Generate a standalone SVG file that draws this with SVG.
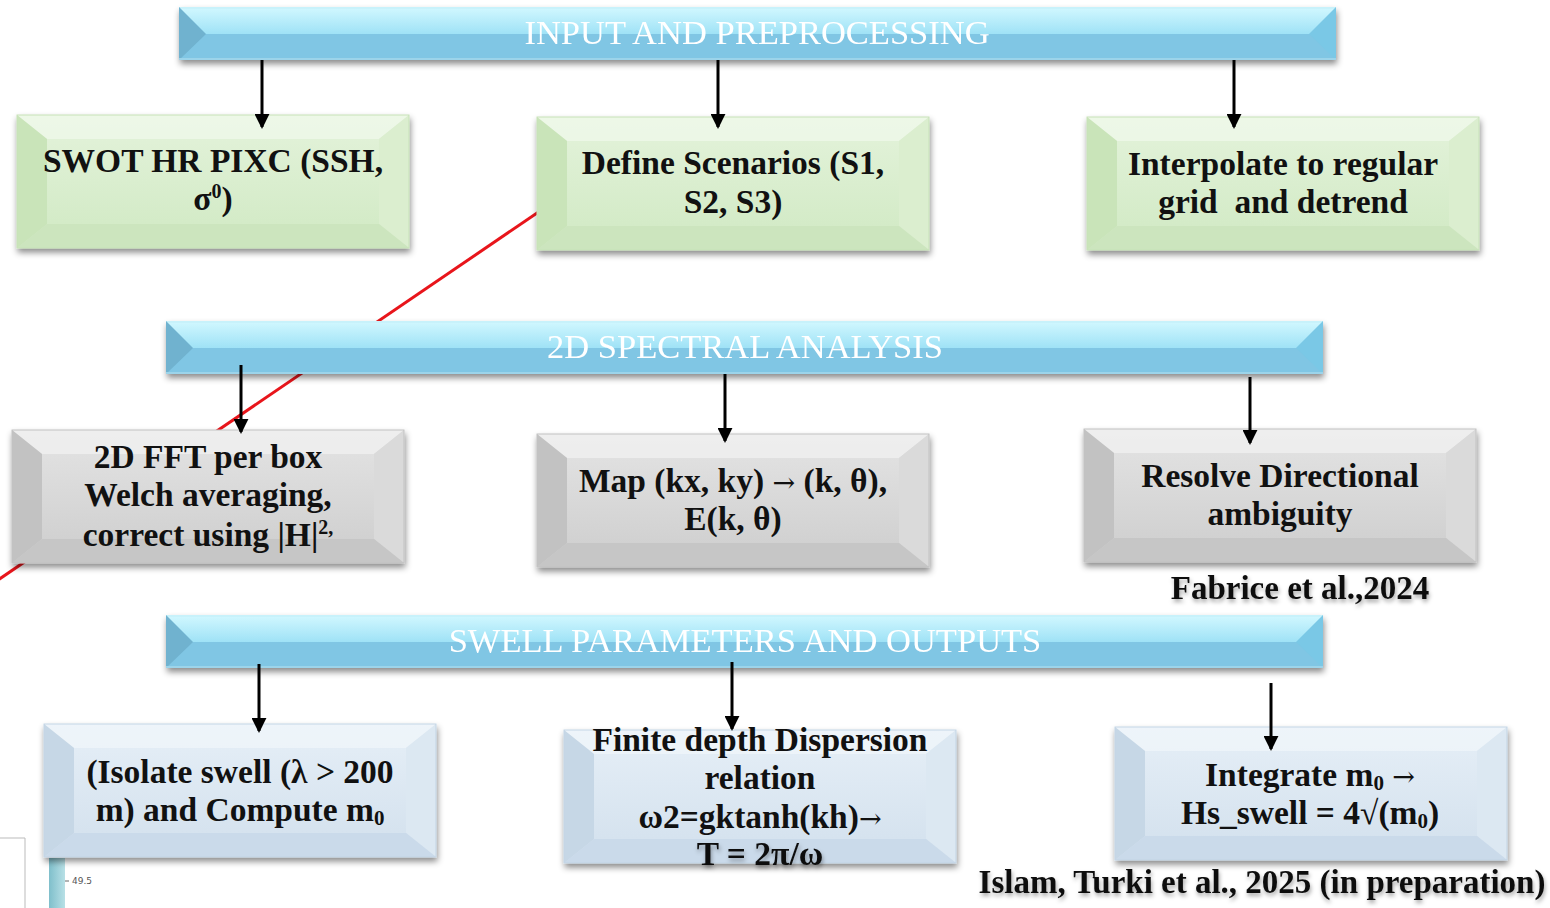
<svg xmlns="http://www.w3.org/2000/svg" xmlns:xlink="http://www.w3.org/1999/xlink" width="1550" height="908" viewBox="0 0 1550 908">
<style>
.t{font-family:"Liberation Serif","Times New Roman",serif;font-weight:bold;font-size:33.5px;fill:#111;text-anchor:middle}
.bt{font-family:"Liberation Serif","Times New Roman",serif;font-size:34.5px;fill:#fff;text-anchor:middle}
.cite{font-family:"Liberation Serif","Times New Roman",serif;font-weight:bold;font-size:33px;fill:#111;text-anchor:middle}
.ar{font-family:"DejaVu Serif",serif;font-weight:normal;font-size:27px}
.arr{stroke:#000;stroke-width:3;fill:none}
</style>
<defs>
<filter id="sh" x="-5%" y="-10%" width="110%" height="130%">
<feDropShadow dx="1" dy="4" stdDeviation="3" flood-color="#000" flood-opacity="0.45"/>
</filter>
<filter id="tsh" x="-5%" y="-20%" width="110%" height="150%">
<feDropShadow dx="1" dy="3" stdDeviation="2" flood-color="#000" flood-opacity="0.35"/>
</filter>
<marker id="ah" markerUnits="userSpaceOnUse" markerWidth="15" markerHeight="15" viewBox="0 0 16 16" refX="14" refY="8" orient="auto">
<path d="M0,0 L16,8 L0,16 Z" fill="#000"/>
</marker>
<linearGradient id="bnTop" x1="0" y1="0" x2="0" y2="1">
<stop offset="0" stop-color="#d2f8ff"/><stop offset="1" stop-color="#9fe2f6"/>
</linearGradient>
<linearGradient id="gFace" x1="0" y1="0" x2="0" y2="1">
<stop offset="0" stop-color="#e4f3db"/><stop offset="1" stop-color="#d0e9c3"/>
</linearGradient>
<linearGradient id="kFace" x1="0" y1="0" x2="0" y2="1">
<stop offset="0" stop-color="#e4e4e4"/><stop offset="1" stop-color="#cdcdcd"/>
</linearGradient>
<linearGradient id="uFace" x1="0" y1="0" x2="0" y2="1">
<stop offset="0" stop-color="#e6eff7"/><stop offset="1" stop-color="#d2e0ed"/>
</linearGradient>
<linearGradient id="barG" x1="0" y1="0" x2="1" y2="0">
<stop offset="0" stop-color="#7fbfcb"/><stop offset="1" stop-color="#b8e0e6"/>
</linearGradient>
<g id="banner">
<rect x="0" y="0" width="1157" height="53" fill="#80c6e4"/>
<rect x="0" y="0" width="1157" height="27" fill="url(#bnTop)"/>
<rect x="0" y="0" width="1157" height="2" fill="#c8f2fb"/>
<polygon points="0,0 27,27 0,53" fill="#6fb2cf"/>
<polygon points="1157,0 1130,27 1157,53" fill="#7ac8e6"/>
<rect x="0" y="51" width="1157" height="2" fill="#9cd4ea"/>
</g>
<g id="boxG">
<rect x="0" y="0" width="392" height="133" fill="url(#gFace)"/>
<polygon points="0,0 392,0 362,24 30,24" fill="#f1f9ec" opacity="0.7"/>
<polygon points="0,0 30,24 30,109 0,133" fill="#c9e4b9"/>
<polygon points="392,0 362,24 362,109 392,133" fill="#dbeecf"/>
<polygon points="0,133 30,109 362,109 392,133" fill="#cce5be"/>
<rect x="0" y="0" width="392" height="133" fill="none" stroke="#c7e2b8" stroke-width="1"/>
</g>
<g id="boxK">
<rect x="0" y="0" width="392" height="133" fill="url(#kFace)"/>
<polygon points="0,0 392,0 362,24 30,24" fill="#f2f2f2" opacity="0.7"/>
<polygon points="0,0 30,24 30,109 0,133" fill="#c2c2c2"/>
<polygon points="392,0 362,24 362,109 392,133" fill="#dadada"/>
<polygon points="0,133 30,109 362,109 392,133" fill="#c6c6c6"/>
<rect x="0" y="0" width="392" height="133" fill="none" stroke="#c2c2c2" stroke-width="1"/>
</g>
<g id="boxU">
<rect x="0" y="0" width="392" height="133" fill="url(#uFace)"/>
<polygon points="0,0 392,0 362,24 30,24" fill="#f1f6fb" opacity="0.7"/>
<polygon points="0,0 30,24 30,109 0,133" fill="#c6d7e6"/>
<polygon points="392,0 362,24 362,109 392,133" fill="#dce8f2"/>
<polygon points="0,133 30,109 362,109 392,133" fill="#cadaea"/>
<rect x="0" y="0" width="392" height="133" fill="none" stroke="#c3d5e5" stroke-width="1"/>
</g>
</defs>
<rect x="0" y="0" width="1550" height="908" fill="#fff"/>

<g id="artifact">
<path d="M0,838 H25 V908" fill="none" stroke="#bbb" stroke-width="1"/>
<rect x="49" y="858" width="16" height="50" fill="url(#barG)"/>
<line x1="65" y1="881" x2="69" y2="881" stroke="#666" stroke-width="1"/>
<text x="72" y="884" font-family="DejaVu Sans, sans-serif" font-size="9" fill="#555">49.5</text>
</g>

<g id="redline">
<line x1="540" y1="211" x2="-2" y2="580" stroke="#e8151b" stroke-width="3"/>
</g>

<g id="banner1" filter="url(#sh)">
<use href="#banner" x="179" y="7"/>
<text class="bt" x="757" y="44">INPUT AND PREPROCESSING</text>
</g>
<g id="banner2" filter="url(#sh)">
<use href="#banner" x="166" y="321"/>
<text class="bt" x="745" y="358">2D SPECTRAL ANALYSIS</text>
</g>
<g id="banner3" filter="url(#sh)">
<use href="#banner" x="166" y="615"/>
<text class="bt" x="745" y="652">SWELL PARAMETERS AND OUTPUTS</text>
</g>

<g id="swot">
<use href="#boxG" x="17" y="115" filter="url(#sh)"/>
<text class="t" x="213" y="172">SWOT HR PIXC (SSH,</text>
<text class="t" x="213" y="210">σ<tspan font-size="20" dy="-12">0</tspan><tspan dy="12">)</tspan></text>
</g>
<g id="scenarios">
<use href="#boxG" x="537" y="117" filter="url(#sh)"/>
<text class="t" x="733" y="174">Define Scenarios (S1,</text>
<text class="t" x="733" y="213">S2, S3)</text>
</g>
<g id="interpolate">
<use href="#boxG" x="1087" y="117" filter="url(#sh)"/>
<text class="t" x="1283" y="175">Interpolate to regular</text>
<text class="t" x="1283" y="213" xml:space="preserve">grid  and detrend</text>
</g>

<g id="fft">
<use href="#boxK" x="12" y="430" filter="url(#sh)"/>
<text class="t" x="208" y="468">2D FFT per box</text>
<text class="t" x="208" y="506">Welch averaging,</text>
<text class="t" x="208" y="546">correct using |H|<tspan font-size="20" dy="-12">2,</tspan></text>
</g>
<g id="map">
<use href="#boxK" x="537" y="434" filter="url(#sh)"/>
<text class="t" x="733" y="492">Map (kx, ky) <tspan class="ar">→</tspan> (k, θ),</text>
<text class="t" x="733" y="530">E(k, θ)</text>
</g>
<g id="resolve">
<use href="#boxK" x="1084" y="429" filter="url(#sh)"/>
<text class="t" x="1280" y="487">Resolve Directional</text>
<text class="t" x="1280" y="525">ambiguity</text>
</g>
<g id="cite1">
<text class="cite" x="1300" y="599" filter="url(#tsh)">Fabrice et al.,2024</text>
</g>

<g id="isolate">
<use href="#boxU" x="44" y="724" filter="url(#sh)"/>
<text class="t" x="240" y="783">(Isolate swell (λ &gt; 200</text>
<text class="t" x="240" y="821">m) and Compute m<tspan font-size="21" dy="4">0</tspan></text>
</g>
<g id="dispersion">
<use href="#boxU" x="564" y="730" filter="url(#sh)"/>
<text class="t" x="760" y="751">Finite depth Dispersion</text>
<text class="t" x="760" y="789">relation</text>
<text class="t" x="760" y="828">ω2=gktanh(kh)<tspan class="ar">→</tspan></text>
<text class="t" x="760" y="865" filter="url(#tsh)">T = 2π/ω</text>
</g>
<g id="integrate">
<use href="#boxU" x="1115" y="727" filter="url(#sh)"/>
<text class="t" x="1310" y="786">Integrate m<tspan font-size="21" dy="4">0</tspan><tspan dy="-4"> </tspan><tspan class="ar">→</tspan></text>
<text class="t" x="1310" y="824">Hs_swell = 4√(m<tspan font-size="21" dy="4">0</tspan><tspan dy="-4">)</tspan></text>
</g>
<g id="cite2">
<text class="cite" x="1262" y="893" filter="url(#tsh)">Islam, Turki et al., 2025 (in preparation)</text>
</g>

<g id="connectors">
<line class="arr" x1="262" y1="60" x2="262" y2="127" marker-end="url(#ah)"/>
<line class="arr" x1="718" y1="60" x2="718" y2="127" marker-end="url(#ah)"/>
<line class="arr" x1="1234" y1="60" x2="1234" y2="127" marker-end="url(#ah)"/>
<line class="arr" x1="241" y1="365" x2="241" y2="432" marker-end="url(#ah)"/>
<line class="arr" x1="725" y1="374" x2="725" y2="441" marker-end="url(#ah)"/>
<line class="arr" x1="1250" y1="377" x2="1250" y2="443" marker-end="url(#ah)"/>
<line class="arr" x1="259" y1="664" x2="259" y2="731" marker-end="url(#ah)"/>
<line class="arr" x1="732" y1="662" x2="732" y2="729" marker-end="url(#ah)"/>
<line class="arr" x1="1271" y1="683" x2="1271" y2="749" marker-end="url(#ah)"/>
</g>
</svg>
